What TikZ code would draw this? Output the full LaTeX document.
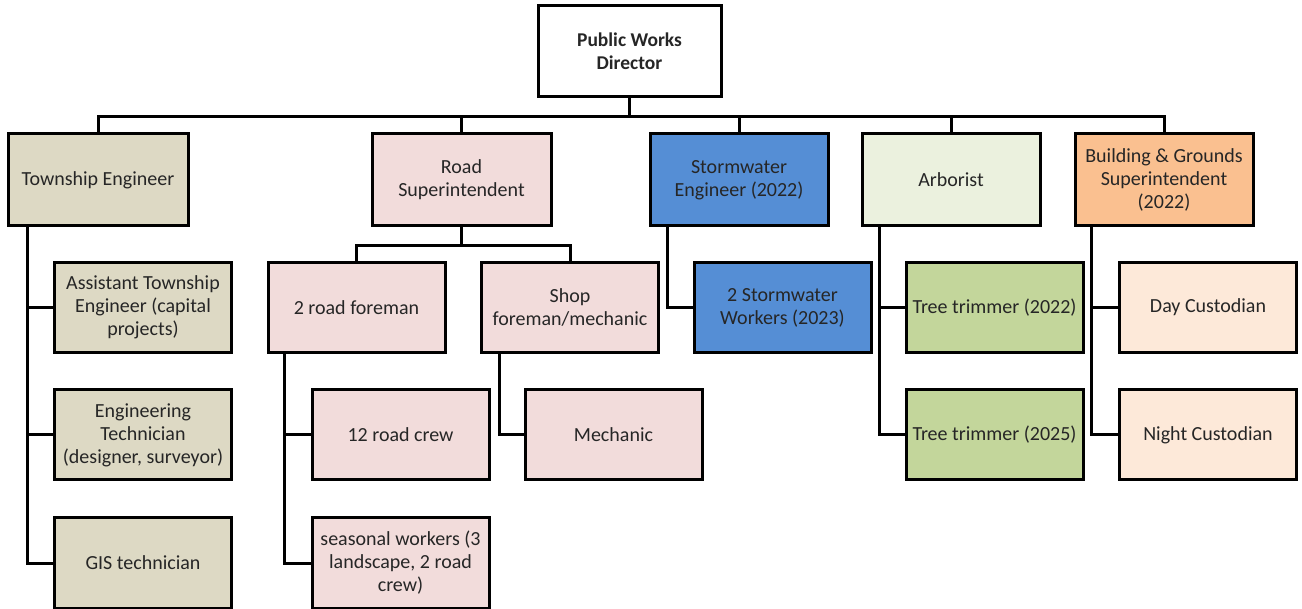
\documentclass[tikz,border=0pt]{standalone}
\usepackage{fontspec}
\setmainfont{Carlito}
\definecolor{tan}{HTML}{DDD9C4}
\definecolor{rpink}{HTML}{F2DCDB}
\definecolor{sblue}{HTML}{558ED5}
\definecolor{agreen}{HTML}{EBF1DE}
\definecolor{tgreen}{HTML}{C3D69B}
\definecolor{borange}{HTML}{FAC090}
\definecolor{cpeach}{HTML}{FDE9D9}
\definecolor{txt}{HTML}{262626}
\begin{document}
\begin{tikzpicture}[x=1pt,y=-1pt,
  box/.style={draw=black, line width=3pt, minimum width=177pt, minimum height=90pt,
    inner sep=1pt, align=center, text=txt, font=\fontsize{20}{23}\selectfont},
  conn/.style={draw=black, line width=3pt}]
\useasboundingbox (0,0) rectangle (1302,609);
\begin{scope}
\clip (0,0) rectangle (1302,609);
% top
\node[box, fill=white, minimum width=183pt, minimum height=91pt, font=\fontsize{19.5}{23}\selectfont\bfseries] (dir) at (629.5,51.5) {Public Works\\Director};
% level 1
\node[box, fill=tan, minimum width=180pt, minimum height=92pt] (te) at (98,180) {Township Engineer};
\node[box, fill=rpink, minimum width=179pt, minimum height=92pt] (rs) at (461.5,180) {Road\\Superintendent};
\node[box, fill=sblue, minimum width=178pt, minimum height=92pt] (se) at (739,180) {Stormwater\\Engineer (2022)};
\node[box, fill=agreen, minimum width=178pt, minimum height=92pt] (ar) at (951,180) {Arborist};
\node[box, fill=borange, minimum width=178pt, minimum height=92pt] (bg) at (1164,180) {Building \& Grounds\\Superintendent\\(2022)};
% township
\node[box, fill=tan] (ate) at (143,307.5) {Assistant Township\\Engineer (capital\\projects)};
\node[box, fill=tan] (et) at (143,435) {Engineering\\Technician\\(designer, surveyor)};
\node[box, fill=tan] (gis) at (143,563) {GIS technician};
% road
\node[box, fill=rpink] (rf) at (356.5,307.5) {2 road foreman};
\node[box, fill=rpink] (sf) at (570,307.5) {Shop\\foreman/mechanic};
\node[box, fill=rpink] (rc) at (400.5,435) {12 road crew};
\node[box, fill=rpink] (sw) at (400.5,563) {seasonal workers (3\\landscape, 2 road\\crew)};
\node[box, fill=rpink] (me) at (613.5,435) {Mechanic};
% stormwater
\node[box, fill=sblue] (swk) at (782.5,307.5) {2 Stormwater\\Workers (2023)};
% arborist
\node[box, fill=tgreen] (t1) at (994.5,307.5) {Tree trimmer (2022)};
\node[box, fill=tgreen] (t2) at (994.5,435) {Tree trimmer (2025)};
% building
\node[box, fill=cpeach] (dc) at (1208,307.5) {Day Custodian};
\node[box, fill=cpeach] (nc) at (1208,435) {Night Custodian};

% connectors
\draw[conn] (dir.south) -- ++(0,18.5) -| (te.north);
\draw[conn] (dir.south) -- ++(0,18.5) -| (rs.north);
\draw[conn] (dir.south) -- ++(0,18.5) -| (se.north);
\draw[conn] (dir.south) -- ++(0,18.5) -| (ar.north);
\draw[conn] (dir.south) -- ++(0,18.5) -| (bg.north);

\draw[conn] ([xshift=21pt]te.south west) |- (ate.west);
\draw[conn] ([xshift=21pt]te.south west) |- (et.west);
\draw[conn] ([xshift=21pt]te.south west) |- (gis.west);

\draw[conn] (rs.south) -- ++(0,18) -| (rf.north);
\draw[conn] (rs.south) -- ++(0,18) -| (sf.north);
\draw[conn] ([xshift=18pt]rf.south west) |- (rc.west);
\draw[conn] ([xshift=18pt]rf.south west) |- (sw.west);
\draw[conn] ([xshift=19pt]sf.south west) |- (me.west);

\draw[conn] ([xshift=19pt]se.south west) |- (swk.west);
\draw[conn] ([xshift=19pt]ar.south west) |- (t1.west);
\draw[conn] ([xshift=19pt]ar.south west) |- (t2.west);
\draw[conn] ([xshift=18pt]bg.south west) |- (dc.west);
\draw[conn] ([xshift=18pt]bg.south west) |- (nc.west);
\end{scope}
\end{tikzpicture}
\end{document}
